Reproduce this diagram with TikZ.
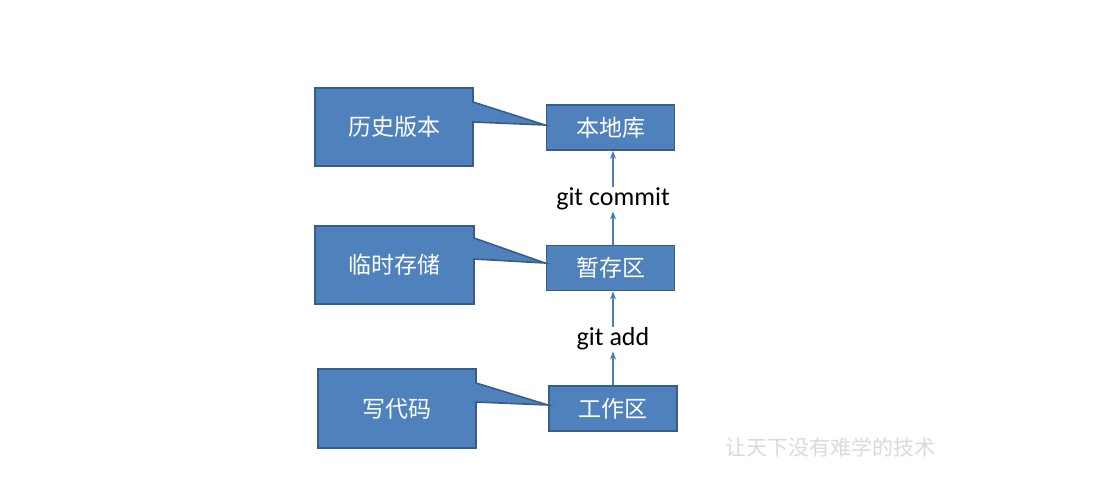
\documentclass[tikz,border=0pt]{standalone}
\usepackage{fontspec}
\newfontfamily\cjk{Noto Sans CJK SC}
\newfontfamily\lbl{Carlito}
\usetikzlibrary{arrows.meta}
\definecolor{boxfill}{HTML}{4F81BD}
\definecolor{boxline}{HTML}{385D8A}
\definecolor{arrcol}{HTML}{4A7EBB}
\definecolor{wm}{HTML}{DADADA}
\tikzset{
  x=1pt,y=-1pt,
  area/.style={draw=boxline,fill=boxfill,line width=1.6pt,minimum width=128pt,minimum height=45pt,inner sep=0pt,text=white,font=\cjk\fontsize{23}{26}\selectfont},
  callout/.style={draw=boxline,fill=boxfill,line width=1.6pt,line join=miter},
  ctext/.style={text=white,font=\cjk\fontsize{23}{26}\selectfont},
  cmd/.style={fill=white,inner sep=1pt,font=\lbl\fontsize{26}{29}\selectfont,text=black},
  arr/.style={draw=arrcol,line width=1.2pt,-{Stealth[length=8pt,width=6pt]}},
}
\begin{document}
\begin{tikzpicture}
\useasboundingbox (0,0) rectangle (1099,480);
% right boxes
\node[area] (repo) at (610.5,127.5) {本地库};
\node[area] (stage) at (610.5,268) {暂存区};
\node[area] (work) at (613,408.5) {工作区};
% callouts
\draw[callout] (315,88) -- (473,88) -- (473,102) -- (545,125) -- (473,122) -- (473,166) -- (315,166) -- cycle;
\node[ctext] (hist) at (394,127) {历史版本};
\draw[callout] (315,226) -- (474,226) -- (474,238) -- (545,263) -- (474,259) -- (474,304) -- (315,304) -- cycle;
\node[ctext] (temp) at (394.5,265) {临时存储};
\draw[callout] (318,369) -- (476,369) -- (476,383) -- (548,405) -- (476,402) -- (476,448) -- (318,448) -- cycle;
\node[ctext] (code) at (397,408.5) {写代码};
% commands
\node[cmd] (add) at (613,339) {git add};
\node[cmd] (commit) at (613,199) {git commit};
\draw[arr] (work.north -| add) -- (add.south);
\draw[arr] (add.north) -- (add.north |- stage.south);
\draw[arr] (stage.north -| commit) -- (commit.south);
\draw[arr] (commit.north) -- (commit.north |- repo.south);
% watermark
\node[text=wm,font=\cjk\fontsize{21}{24}\selectfont,inner sep=0pt] (mark) at (830,447) {让天下没有难学的技术};
\end{tikzpicture}
\end{document}
